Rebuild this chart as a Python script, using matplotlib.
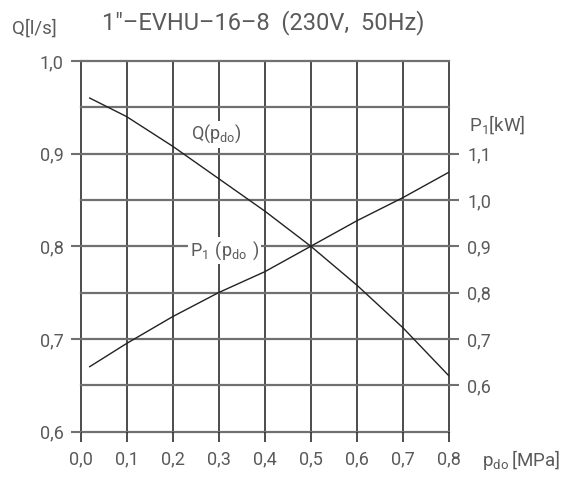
import matplotlib.pyplot as plt

plt.rcParams['font.family'] = ['Roboto', 'Roboto Condensed', 'DejaVu Sans']
plt.rcParams['mathtext.default'] = 'regular'

# data
p_do = [0.02, 0.1, 0.2, 0.3, 0.4, 0.5, 0.6, 0.7, 0.8]
q_flow = [0.96, 0.94, 0.908, 0.873, 0.838, 0.80, 0.758, 0.712, 0.66]
p1_power = [0.64, 0.69, 0.748, 0.80, 0.845, 0.90, 0.955, 1.005, 1.06]

x_ticks = [0.0, 0.1, 0.2, 0.3, 0.4, 0.5, 0.6, 0.7, 0.8]
q_ticks = [0.6, 0.7, 0.8, 0.9, 1.0]
q_minor = [0.65, 0.75, 0.85, 0.95]
p1_ticks = [0.6, 0.7, 0.8, 0.9, 1.0, 1.1]

def comma(v):
    return f"{v:.1f}".replace(".", ",")

W, H = 573, 479
fig = plt.figure(figsize=(W / 100, H / 100), dpi=100)
ax = fig.add_axes([80.5 / W, 1 - 431.5 / H, 368.5 / W, 370.5 / H])

txt_col = "#5a5a5a"
vline_col = "#2e2e2e"
hline_col = "#707070"

ax.set_xlim(0, 0.8)
ax.set_ylim(0.6, 1.0)
for s in ax.spines.values():
    s.set_visible(False)

ax.set_xticks(x_ticks)
ax.set_xticklabels([comma(v) for v in x_ticks])
ax.set_yticks(q_ticks)
ax.set_yticklabels([comma(v) for v in q_ticks])
ax.tick_params(axis="y", length=7, width=1.5, color=hline_col,
               labelcolor=txt_col, labelsize=13, pad=5)
ax.tick_params(axis="x", length=7.5, width=1.2, color=vline_col,
               labelcolor=txt_col, labelsize=13, pad=6)

# grid drawn by hand so the edge lines are not clipped
for x in x_ticks:
    ax.axvline(x, color=vline_col, lw=1.2, clip_on=False, zorder=1)
for y in q_ticks + q_minor:
    ax.axhline(y, color=hline_col, lw=1.6, clip_on=False, zorder=1)

ax.plot(p_do, q_flow, color="#222222", lw=1.0, zorder=3)

# right axis for P1
ax2 = ax.twinx()
ax2.set_ylim(0.5, 1.3)
for s in ax2.spines.values():
    s.set_visible(False)
ax2.set_yticks(p1_ticks)
ax2.set_yticklabels([comma(v) for v in p1_ticks])
ax2.tick_params(axis="y", length=7, width=1.5, color=hline_col,
                labelcolor=txt_col, labelsize=13, pad=6)
ax2.plot(p_do, p1_power, color="#222222", lw=1.0, zorder=3)

# curve labels with white boxes that cut the grid
box = dict(facecolor="white", edgecolor="none", pad=1.5)
ax2.text(0.294, 2 * 0.921 - 0.7, r"$Q(p_{do})$", color=txt_col, fontsize=13,
         ha="center", va="center", bbox=box, zorder=4)
ax2.text(0.312, 2 * 0.795 - 0.7, r"$P_1\ (p_{do}\ )$", color=txt_col, fontsize=13,
         ha="center", va="center", bbox=box, zorder=4)

# titles and axis captions
fig.text(12 / W, 1 - 29 / H, "Q[l/s]", color=txt_col, fontsize=13.5, va="center")
fig.text(102 / W, 1 - 23 / H, "1\"\u2013EVHU\u201316\u20138  (230V,  50Hz)",
         color=txt_col, fontsize=17, va="center")
fig.text(469 / W, 1 - 125 / H, r"$P_1[kW]$", color=txt_col, fontsize=13.5, va="center")
fig.text(482 / W, 1 - 460 / H, r"$p_{do}\,[MPa]$", color=txt_col, fontsize=13.5, va="center")

fig.savefig("out.png", dpi=100)
